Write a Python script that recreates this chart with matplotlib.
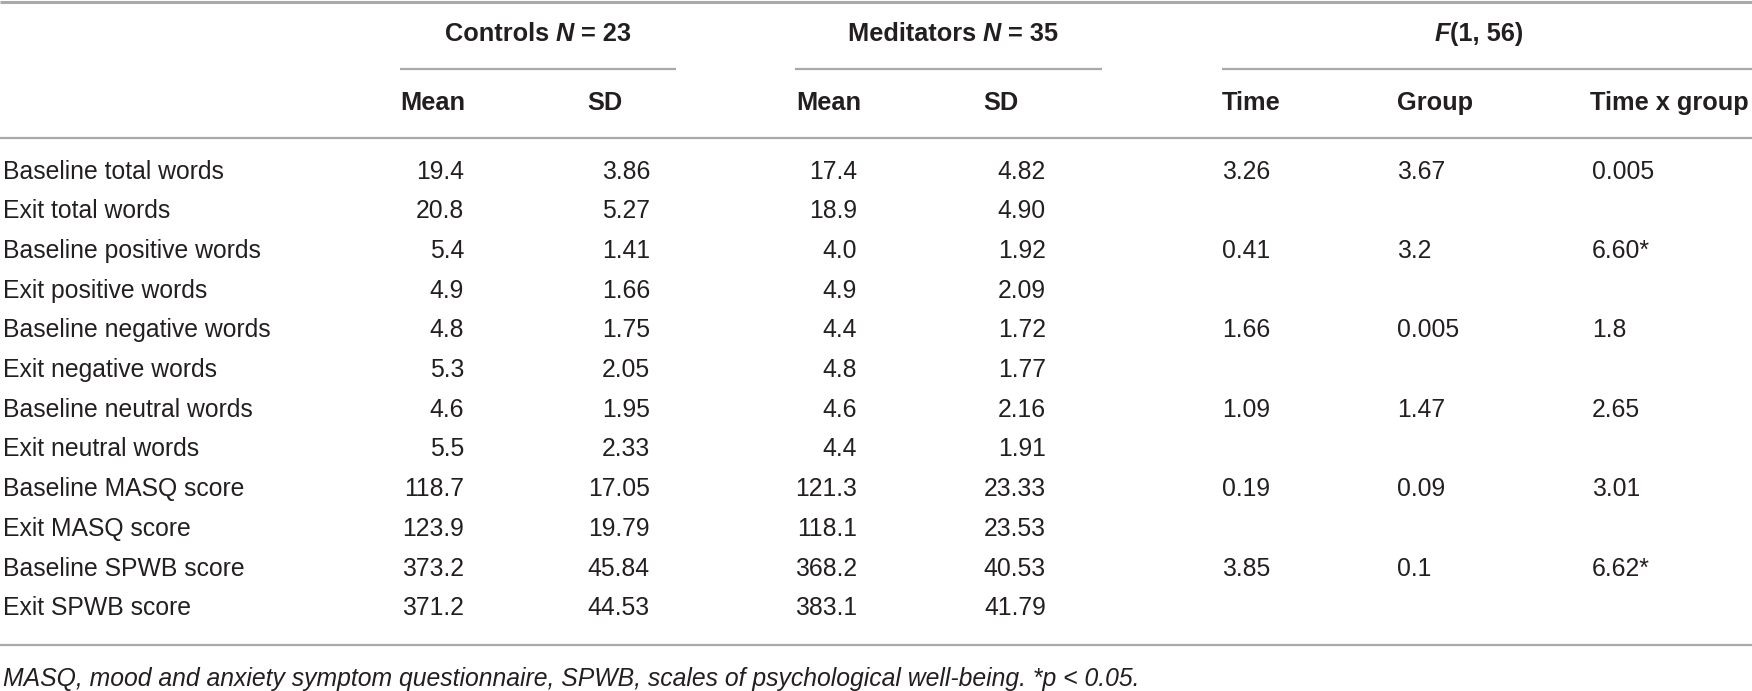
import matplotlib
matplotlib.use("Agg")
import matplotlib.pyplot as plt

# table contents
row_labels = ["Baseline total words", "Exit total words",
              "Baseline positive words", "Exit positive words",
              "Baseline negative words", "Exit negative words",
              "Baseline neutral words", "Exit neutral words",
              "Baseline MASQ score", "Exit MASQ score",
              "Baseline SPWB score", "Exit SPWB score"]
ctrl_mean = ["19.4", "20.8", "5.4", "4.9", "4.8", "5.3", "4.6", "5.5",
             "118.7", "123.9", "373.2", "371.2"]
ctrl_sd = ["3.86", "5.27", "1.41", "1.66", "1.75", "2.05", "1.95", "2.33",
           "17.05", "19.79", "45.84", "44.53"]
med_mean = ["17.4", "18.9", "4.0", "4.9", "4.4", "4.8", "4.6", "4.4",
            "121.3", "118.1", "368.2", "383.1"]
med_sd = ["4.82", "4.90", "1.92", "2.09", "1.72", "1.77", "2.16", "1.91",
          "23.33", "23.53", "40.53", "41.79"]
# F values only on the baseline rows
f_time = ["3.26", "", "0.41", "", "1.66", "", "1.09", "", "0.19", "", "3.85", ""]
f_group = ["3.67", "", "3.2", "", "0.005", "", "1.47", "", "0.09", "", "0.1", ""]
f_txg = ["0.005", "", "6.60*", "", "1.8", "", "2.65", "", "3.01", "", "6.62*", ""]

sub_headers = ["Mean", "SD", "Mean", "SD", "Time", "Group", "Time x group"]
footnote = ("MASQ, mood and anxiety symptom questionnaire, SPWB, scales of "
            "psychological well-being. *p < 0.05.")

W, H = 1752, 691
BODY = "Liberation Sans"
txt_col = "#231f20"
rule_col = "#a7a9ac"
fs = 17.8
fs_b = 18.3

fig = plt.figure(figsize=(W / 100, H / 100), dpi=100)
ax = fig.add_axes([0, 0, 1, 1])
ax.set_xlim(0, W)
ax.set_ylim(H, 0)
ax.axis("off")

# rules
ax.plot([0, W], [1.5, 1.5], color=rule_col, lw=2.2, solid_capstyle="butt")
ax.plot([0, W], [138, 138], color=rule_col, lw=1.6, solid_capstyle="butt")
ax.plot([0, W], [645, 645], color=rule_col, lw=1.6, solid_capstyle="butt")
spans = [(400, 676), (795, 1102), (1222, W)]
for a, b in spans:
    ax.plot([a, b], [69, 69], color=rule_col, lw=1.6, solid_capstyle="butt")


def runs(xc, y, parts):
    # draw a line made of differently styled pieces, centred on xc
    r = fig.canvas.get_renderer()
    objs = []
    for s, style in parts:
        t = ax.text(0, y, s, fontsize=fs_b, fontweight="bold", fontstyle=style,
                    family=BODY, color=txt_col, va="center", ha="left")
        objs.append(t)
    widths = [o.get_window_extent(r).width for o in objs]
    x = xc - sum(widths) / 2
    for o, w in zip(objs, widths):
        o.set_x(x)
        x += w


runs(538, 34, [("Controls ", "normal"), ("N", "italic"), (" = 23", "normal")])
runs(953, 34, [("Meditators ", "normal"), ("N", "italic"), (" = 35", "normal")])
runs(1479, 34, [("F", "italic"), ("(1, 56)", "normal")])

sub_x = [400, 587, 796, 983, 1222, 1397, 1590]
for x, s in zip(sub_x, sub_headers):
    ax.text(x, 103, s, fontsize=fs_b, fontweight="bold", family=BODY,
            color=txt_col, va="center", ha="left")

row0, pitch = 171.5, 39.7
right_cols = [(ctrl_mean, 464), (ctrl_sd, 650), (med_mean, 857), (med_sd, 1046)]
left_cols = [(f_time, 1222), (f_group, 1397), (f_txg, 1592)]
for i, lab in enumerate(row_labels):
    y = row0 + i * pitch
    ax.text(3, y, lab, fontsize=fs, family=BODY, color=txt_col,
            va="center", ha="left")
    for col, x in right_cols:
        ax.text(x, y, col[i], fontsize=fs, family=BODY, color=txt_col,
                va="center", ha="right")
    for col, x in left_cols:
        ax.text(x, y, col[i], fontsize=fs, family=BODY, color=txt_col,
                va="center", ha="left")

ax.text(3, 679, footnote, fontsize=fs, family=BODY, style="italic",
        color=txt_col, va="center", ha="left")

fig.savefig("out.png", dpi=100)
